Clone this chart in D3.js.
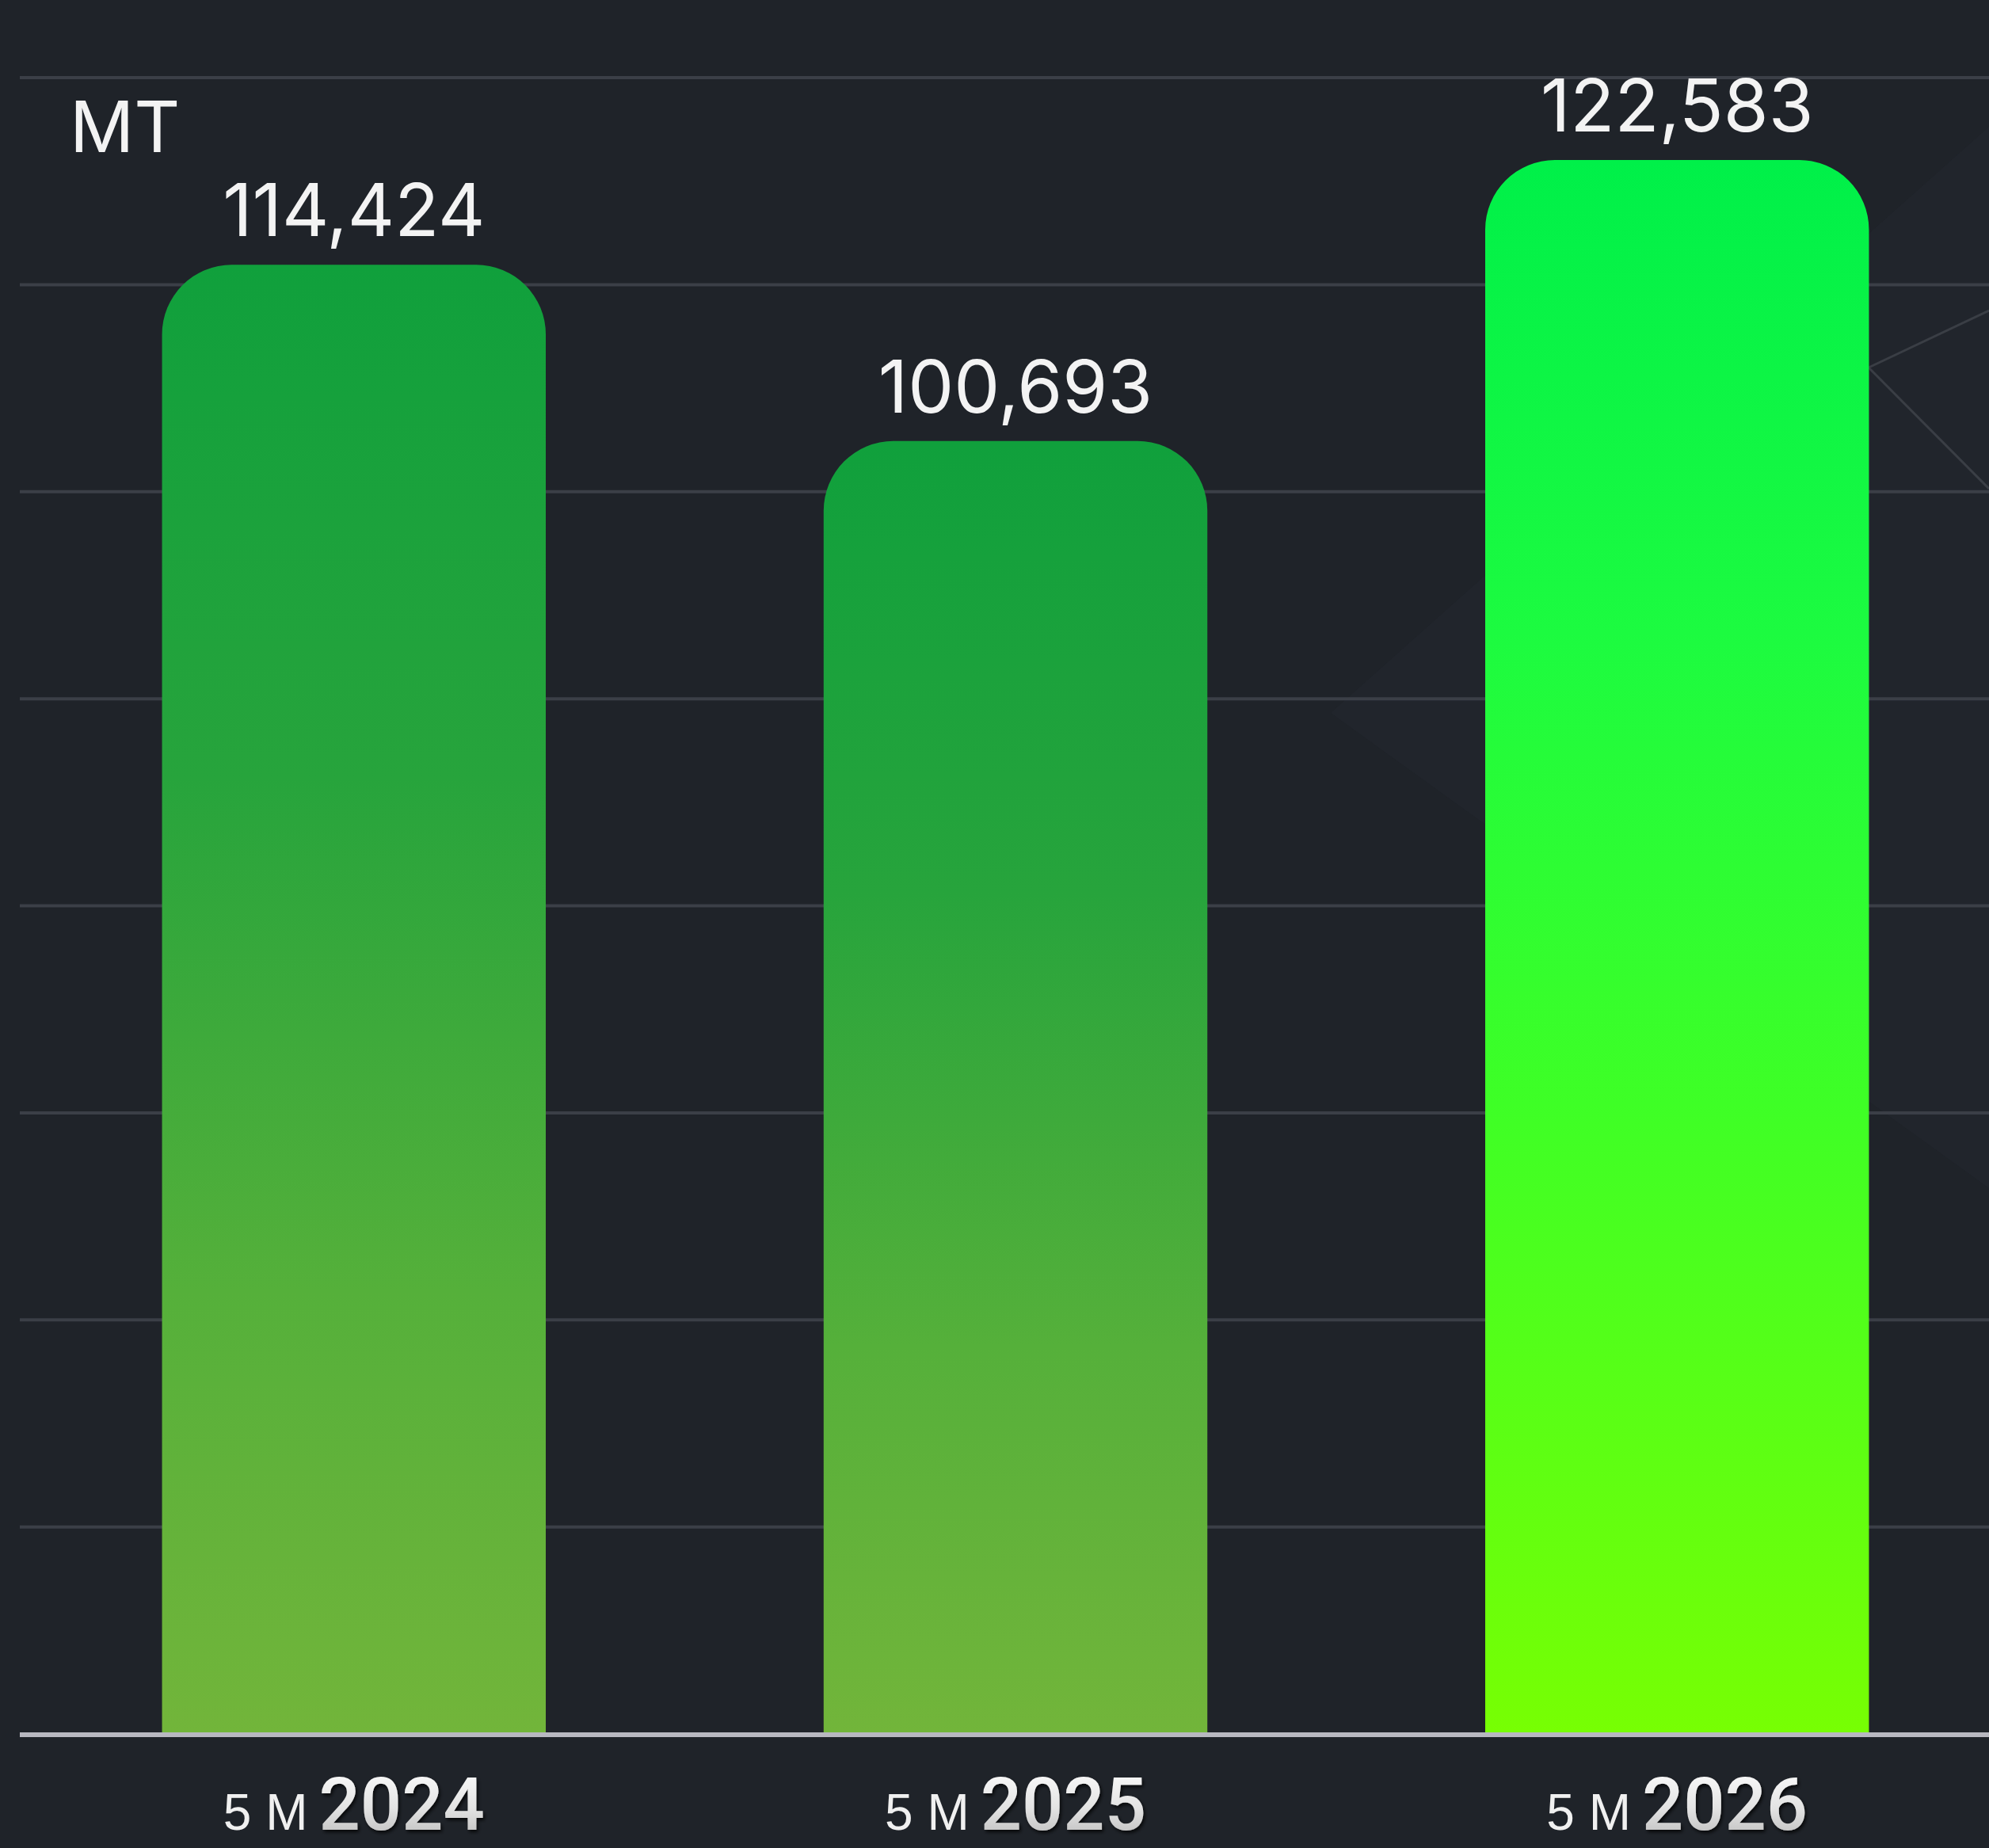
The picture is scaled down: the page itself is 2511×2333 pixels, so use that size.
<!DOCTYPE html>
<html>
<head>
<meta charset="utf-8">
<script src="https://cdn.jsdelivr.net/npm/d3@7"></script>
<style>
  html, body { margin: 0; padding: 0; background: #1f2329; }
  svg { display: block; }
</style>
</head>
<body>
<svg id="chart"></svg>
<script>
// data
var periods = ["5 М", "5 М", "5 М"]
var years = ["2024", "2025", "2026"]
var volumes = [114424, 100693, 122583]
var unitLabel = "МТ"
var yMax = 129000
var gridCount = 8

var width = 2511
var height = 2333
var baseY = 2189
var topY = 98

var svg = d3.select("#chart").attr("width", width).attr("height", height)

var defs = svg.append("defs")

function addGradient(id, stops) {
  var g = defs.append("linearGradient").attr("id", id)
    .attr("x1", 0).attr("y1", 0).attr("x2", 0).attr("y2", 1)
  stops.forEach(function (s) {
    g.append("stop").attr("offset", s[0]).attr("stop-color", s[1])
  })
}
addGradient("gDark", [[0, "#10a03c"], [0.35, "#27a43c"], [0.7, "#55b03a"], [1, "#72b53a"]])
addGradient("gBright", [[0, "#00f049"], [0.3, "#1cfb40"], [0.6, "#3eff26"], [1, "#77ff03"]])
addGradient("gYear", [[0, "#ffffff"], [0.55, "#e2e2e2"], [1, "#b4b4b4"]])

var shadow = defs.append("filter").attr("id", "emboss")
  .attr("x", "-10%").attr("y", "-10%").attr("width", "130%").attr("height", "140%")
shadow.append("feDropShadow").attr("dx", 2).attr("dy", 3)
  .attr("stdDeviation", 2).attr("flood-color", "#000").attr("flood-opacity", 0.75)

// background
svg.append("rect").attr("width", width).attr("height", height).attr("fill", "#1f2329")
svg.append("polygon")
  .attr("points", "1680,900 2511,160 2511,1500")
  .attr("fill", "#242830").attr("opacity", 0.5)
svg.append("line").attr("x1", 2359).attr("y1", 464).attr("x2", 2511).attr("y2", 392)
  .attr("stroke", "#3a3e45").attr("stroke-width", 3)
svg.append("line").attr("x1", 2359).attr("y1", 464).attr("x2", 2511).attr("y2", 617)
  .attr("stroke", "#3a3e45").attr("stroke-width", 3)

var x = d3.scaleBand()
  .domain(years)
  .range([25, 2539])
  .paddingInner(0.42)
  .paddingOuter(0.215)

var y = d3.scaleLinear().domain([0, yMax]).range([baseY, topY])

// grid lines
var gridVals = d3.range(1, gridCount + 1).map(function (i) { return i * yMax / gridCount })
svg.append("g").selectAll("line").data(gridVals).enter().append("line")
  .attr("x1", 25).attr("x2", width)
  .attr("y1", function (d) { return y(d) })
  .attr("y2", function (d) { return y(d) })
  .attr("stroke", "#3b3f47")
  .attr("stroke-width", 4)

// bars with rounded tops
var r = 88
function barPath(d, i) {
  var x0 = x(years[i])
  var x1 = x0 + x.bandwidth()
  var yt = y(d)
  var yb = y(0) - 2
  return "M" + x0 + "," + yb +
    "L" + x0 + "," + (yt + r) +
    "A" + r + "," + r + " 0 0 1 " + (x0 + r) + "," + yt +
    "L" + (x1 - r) + "," + yt +
    "A" + r + "," + r + " 0 0 1 " + x1 + "," + (yt + r) +
    "L" + x1 + "," + yb + "Z"
}

svg.append("g").selectAll("path").data(volumes).enter().append("path")
  .attr("d", barPath)
  .attr("fill", function (d, i) { return i == volumes.length - 1 ? "url(#gBright)" : "url(#gDark)" })

// baseline
svg.append("line")
  .attr("x1", 25).attr("x2", width)
  .attr("y1", y(0) + 1).attr("y2", y(0) + 1)
  .attr("stroke", "#b8b8c0").attr("stroke-width", 6)

// value labels
svg.append("g").selectAll("text").data(volumes).enter().append("text")
  .attr("x", function (d, i) { return x(years[i]) + x.bandwidth() / 2 })
  .attr("y", function (d) { return y(d) - 36 })
  .attr("text-anchor", "middle")
  .attr("font-family", "Inter, 'Open Sans', sans-serif")
  .attr("font-size", 92)
  .attr("fill", "#f3f3f3")
  .text(function (d) { return d3.format(",")(d) })

// unit
svg.append("text")
  .attr("x", 88).attr("y", 192)
  .attr("font-family", "Inter, 'Open Sans', sans-serif")
  .attr("font-size", 90)
  .attr("fill", "#f3f3f3")
  .text(unitLabel)

// x labels
var xl = svg.append("g").selectAll("text").data(years).enter().append("text")
  .attr("x", function (d) { return x(d) + x.bandwidth() / 2 })
  .attr("y", 2310)
  .attr("text-anchor", "middle")

xl.append("tspan")
  .attr("font-family", "'Liberation Sans', Arial, sans-serif")
  .attr("font-size", 64)
  .attr("fill", "#f0f0f0")
  .text(function (d, i) { return periods[i] })

xl.append("tspan")
  .attr("dx", 14)
  .attr("font-family", "Roboto, sans-serif")
  .attr("font-weight", 500)
  .attr("font-size", 92)
  .attr("fill", "url(#gYear)")
  .attr("filter", "url(#emboss)")
  .text(function (d) { return d })
</script>
</body>
</html>
